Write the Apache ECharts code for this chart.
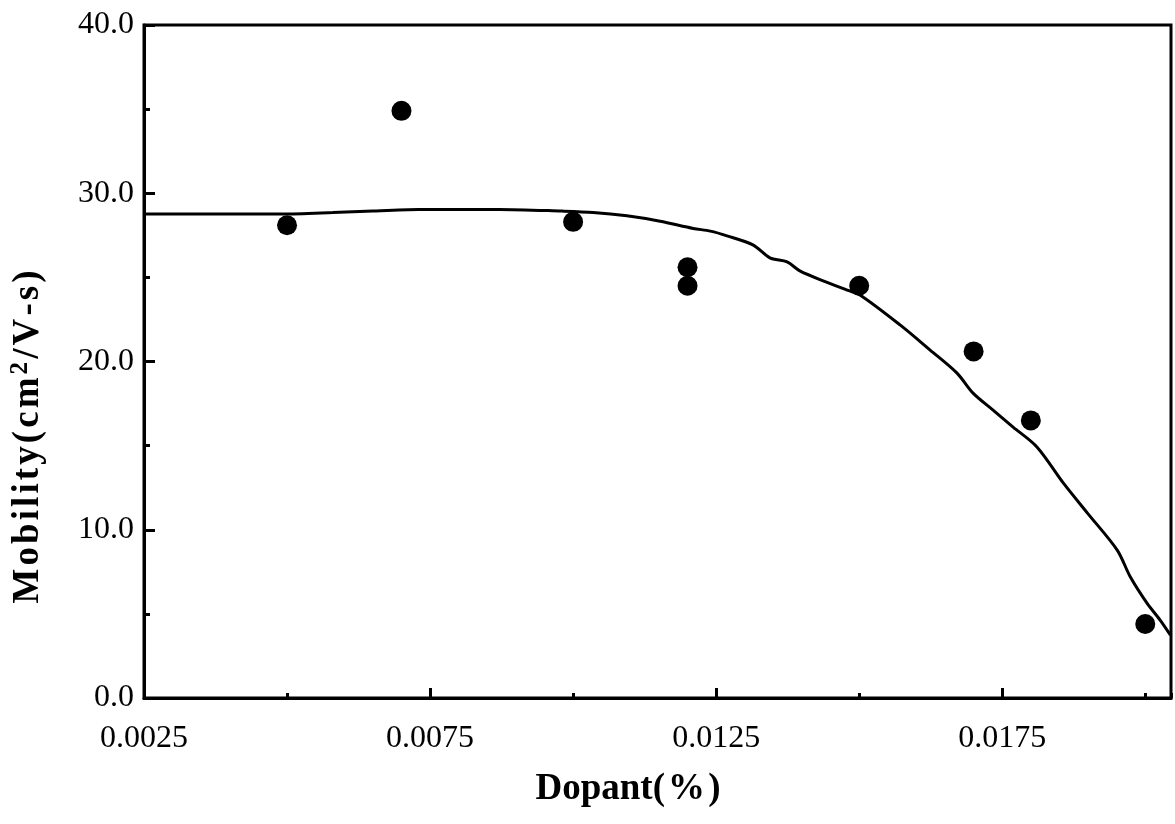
<!DOCTYPE html>
<html>
<head>
<meta charset="utf-8">
<title>Mobility vs Dopant</title>
<script src="https://cdn.jsdelivr.net/npm/echarts@6/dist/echarts.min.js"></script>
<style>
  html, body { margin: 0; padding: 0; background: #fff; }
  #chart { width: 1175px; height: 824px; }
</style>
</head>
<body>
<div id="chart"></div>
<script>
// Measured samples
const dopant = [0.0050, 0.0070, 0.0100, 0.0120, 0.0120, 0.0150, 0.0170, 0.0180, 0.0200];
const mobility = [28.1, 34.9, 28.3, 25.6, 24.5, 24.5, 20.6, 16.5, 4.4];

// Fitted trend curve
const fitX = [0.0025, 0.0049, 0.0058, 0.0065, 0.0073, 0.0087, 0.0098, 0.01035, 0.01094, 0.01152,
  0.0121, 0.0124, 0.01269, 0.01315, 0.01344, 0.01374, 0.01397, 0.01444, 0.01479, 0.01502,
  0.01572, 0.01624, 0.01671, 0.01699, 0.01734, 0.01769, 0.01811, 0.01857, 0.01899, 0.01951,
  0.01974, 0.02003, 0.02026, 0.02044];
const fitY = [28.76, 28.76, 28.85, 28.95, 29.03, 29.04, 28.94, 28.86, 28.66, 28.34,
  27.91, 27.75, 27.47, 26.92, 26.16, 25.92, 25.37, 24.70, 24.24, 23.94,
  22.16, 20.68, 19.31, 18.12, 17.11, 16.10, 14.91, 12.77, 10.99, 8.79,
  7.19, 5.64, 4.63, 3.74];

// Axis ranges and tick labels
const xMin = 0.0025, xMax = 0.02045, xMajor = 0.005, xMinor = 0.0025;
const xTickLabels = ['0.0025', '0.0075', '0.0125', '0.0175'];
const yMin = 0, yMax = 40, yMajor = 10;
const yTickLabels = ['0.0', '10.0', '20.0', '30.0', '40.0'];

const FONT = '"Liberation Serif", "Times New Roman", serif';
const HS = '\u200A'; // hair space for the loosely tracked axis titles

const chart = echarts.init(document.getElementById('chart'), null, { renderer: 'canvas' });

chart.setOption({
  backgroundColor: '#ffffff',
  animation: false,
  grid: {
    left: 144, top: 25, right: 4, bottom: 126,
    show: true, borderColor: '#000', borderWidth: 3, backgroundColor: 'transparent'
  },
  xAxis: [
    {
      type: 'value', min: xMin, max: xMax, interval: xMajor, position: 'bottom',
      axisLine: { show: true, lineStyle: { color: '#000', width: 3 } },
      axisTick: { show: true, inside: true, length: 10, lineStyle: { color: '#000', width: 3 } },
      splitLine: { show: false },
      axisLabel: {
        show: true, margin: 25, color: '#000', fontFamily: FONT, fontSize: 32,
        showMaxLabel: false,
        formatter: function (v) {
          const s = v.toFixed(4);
          return xTickLabels.indexOf(s) >= 0 ? s : '';
        }
      }
    },
    {
      type: 'value', min: xMin, max: xMax, interval: xMinor, position: 'bottom',
      axisLine: { show: false },
      axisTick: { show: true, inside: true, length: 5, lineStyle: { color: '#000', width: 3 } },
      splitLine: { show: false },
      axisLabel: { show: false }
    }
  ],
  yAxis: {
    type: 'value', min: yMin, max: yMax, interval: yMajor,
    axisLine: { show: true, lineStyle: { color: '#000', width: 3 } },
    axisTick: { show: true, inside: true, length: 11, lineStyle: { color: '#000', width: 3 } },
    minorTick: { show: true, splitNumber: 2, length: 6, lineStyle: { color: '#000', width: 3 } },
    splitLine: { show: false },
    minorSplitLine: { show: false },
    axisLabel: {
      margin: 10, color: '#000', fontFamily: FONT, fontSize: 32,
      formatter: function (v) { return yTickLabels[Math.round(v / yMajor)] || ''; }
    }
  },
  graphic: [
    {
      type: 'text', z: 10, x: 628, y: 789,
      style: {
        text: 'Dopant(' + HS + '%' + HS + ')',
        align: 'center', verticalAlign: 'middle',
        font: 'bold 37px ' + FONT, fill: '#000'
      }
    },
    {
      type: 'text', z: 10,
      x: 28, y: 437, rotation: Math.PI / 2,
      style: {
        text: '{a|' + 'Mobility(cm'.split('').join(HS) + HS + '}{s|2}{a|' + HS + '/V-s)'.split('').join(HS) + '}',
        align: 'center', verticalAlign: 'middle',
        rich: {
          a: { font: 'bold 37px ' + FONT, fill: '#000', lineHeight: 40 },
          s: { font: 'bold 25px ' + FONT, fill: '#000', verticalAlign: 'top', lineHeight: 40 }
        }
      }
    }
  ],
  series: [
    {
      name: 'fit', type: 'line', xAxisIndex: 0,
      data: fitX.map((x, i) => [x, fitY[i]]),
      smooth: 0.3, showSymbol: false, symbol: 'none',
      lineStyle: { color: '#000', width: 3 },
      z: 3
    },
    {
      name: 'measured', type: 'scatter', xAxisIndex: 0,
      data: dopant.map((x, i) => [x, mobility[i]]),
      symbol: 'circle', symbolSize: 20,
      itemStyle: { color: '#000', opacity: 1 },
      z: 4
    }
  ]
});
</script>
</body>
</html>
